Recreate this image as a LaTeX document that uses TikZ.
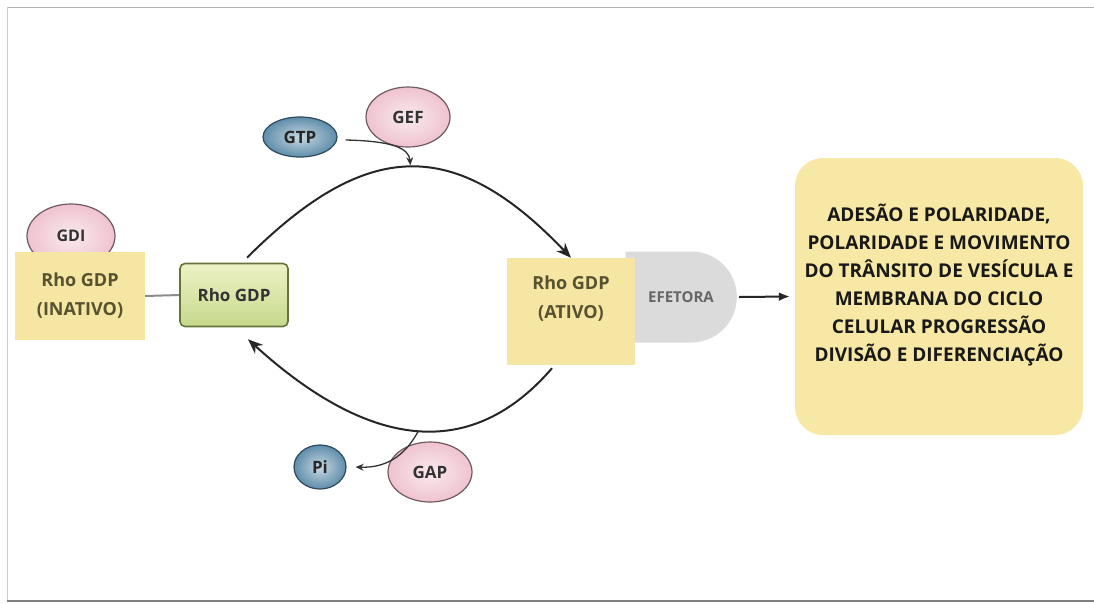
\documentclass[tikz,border=0pt]{standalone}
\usepackage{fontspec}
\setmainfont{Open Sans}
\usetikzlibrary{arrows.meta,positioning,shapes.geometric,shapes.misc}

\definecolor{boxyellow}{HTML}{F5E6A3}
\definecolor{bigyellow}{HTML}{F7E9A5}
\definecolor{olivetext}{HTML}{57522F}
\definecolor{pinkfill}{HTML}{EFC3CF}
\definecolor{pinkedge}{HTML}{6E5A60}
\definecolor{bluefill}{HTML}{5F8DAA}
\definecolor{blueedge}{HTML}{2E4A5E}
\definecolor{greenedge}{HTML}{66733A}
\definecolor{greentop}{HTML}{EDF2C6}
\definecolor{greenbot}{HTML}{C6D98C}

\begin{document}
\begin{tikzpicture}[x=1pt, y=-1pt,
  font=\bfseries,
  yel/.style={fill=boxyellow, text=olivetext, align=center, inner sep=0pt,
              font=\bfseries\fontsize{18}{29}\selectfont},
  pinkball/.style={ellipse, draw=pinkedge, line width=1.2pt, inner sep=0pt,
                   inner color=pinkfill!35!white, outer color=pinkfill,
                   text=black!80, font=\bfseries\fontsize{16}{18}\selectfont},
  blueball/.style={ellipse, draw=blueedge, line width=1.2pt, inner sep=0pt,
                   inner color=bluefill!35!white, outer color=bluefill,
                   text=black!85, font=\bfseries\fontsize{17}{19}\selectfont},
  cyc/.style={-{Stealth[length=15pt,width=12pt]}, line width=2pt, draw=black!85},
  thinar/.style={-{Stealth[length=8pt,width=7pt]}, line width=1.3pt, draw=black!80}]

% screenshot frame
\useasboundingbox (0,0) rectangle (1094,603);
\draw[black!30, line width=1pt] (7,7) -- (1094,7);
\draw[black!20, line width=0.8pt] (7,7) -- (7,601);
\draw[black!50, line width=2pt] (7,601) -- (1094,601);

% inactive side
\node[pinkball, minimum width=88, minimum height=64] (gdi) at (71,236) {GDI};
\node[yel, minimum width=130, minimum height=88] (inativo) at (80,296)
     {Rho GDP\\(INATIVO)};
\node[draw=greenedge, line width=1.6pt, rounded corners=5pt,
      top color=greentop, bottom color=greenbot,
      minimum width=108, minimum height=63, text=black!80,
      font=\bfseries\fontsize{17}{20}\selectfont] (green) at (234,295) {Rho GDP};
\draw[black!45, line width=2pt] (inativo.east) -- (green.west);

% active side
\node[rounded rectangle, rounded rectangle left arc=none, fill=black!14,
      minimum width=118, minimum height=91, text=black!60,
      font=\bfseries\fontsize{15}{18}\selectfont] (efetora) at (681,297) {EFETORA};
\node[yel, minimum width=128, minimum height=107] (ativo) at (571,311.5)
     {Rho GDP\\(ATIVO)\\\mbox{}};
\node[fill=bigyellow, rounded corners=28pt, minimum width=288, minimum height=277,
      align=center, inner sep=0pt, text=black!90,
      font=\bfseries\fontsize{19}{28}\selectfont] (result) at (939,296.5)
     {ADESÃO E POLARIDADE,\\POLARIDADE E MOVIMENTO\\DO TRÂNSITO DE VESÍCULA E\\
      MEMBRANA DO CICLO\\CELULAR PROGRESSÃO\\DIVISÃO E DIFERENCIAÇÃO\\\mbox{}};
\draw[-{Latex[length=11pt,width=9pt]}, line width=2pt, black!85]
     ([xshift=2pt]efetora.east) -- ([xshift=-5pt]result.west);

% the cycle
\draw[cyc] ([xshift=13pt,yshift=5pt]green.north) .. controls (367,138) and (455,136)
     .. (ativo.north) coordinate[pos=0.5] (gefhit);
\draw[cyc] ([xshift=-19pt,yshift=-3pt]ativo.south) .. controls (465,469) and (360,441)
     .. ([xshift=14pt,yshift=-12pt]green.south) coordinate[pos=0.47] (gaphit);

% exchange factors
\node[blueball, minimum width=74, minimum height=40] (gtp) at (300,137) {GTP};
\node[pinkball, minimum width=84, minimum height=60,
      font=\bfseries\fontsize{17}{19}\selectfont] (gef) at (408,117) {GEF};
\draw[thinar, shorten >=2pt] ([xshift=8pt,yshift=-3pt]gtp.east)
     .. controls (392,141) and (409,148) .. (gefhit);

\node[blueball, minimum width=52, minimum height=44] (pi) at (320,467) {Pi};
\node[pinkball, minimum width=84, minimum height=60,
      font=\bfseries\fontsize{17}{19}\selectfont] (gap) at (430,472) {GAP};
\draw[thinar] (gaphit) .. controls (404,458) and (384,468) .. ([xshift=9pt]pi.east);
\end{tikzpicture}
\end{document}
